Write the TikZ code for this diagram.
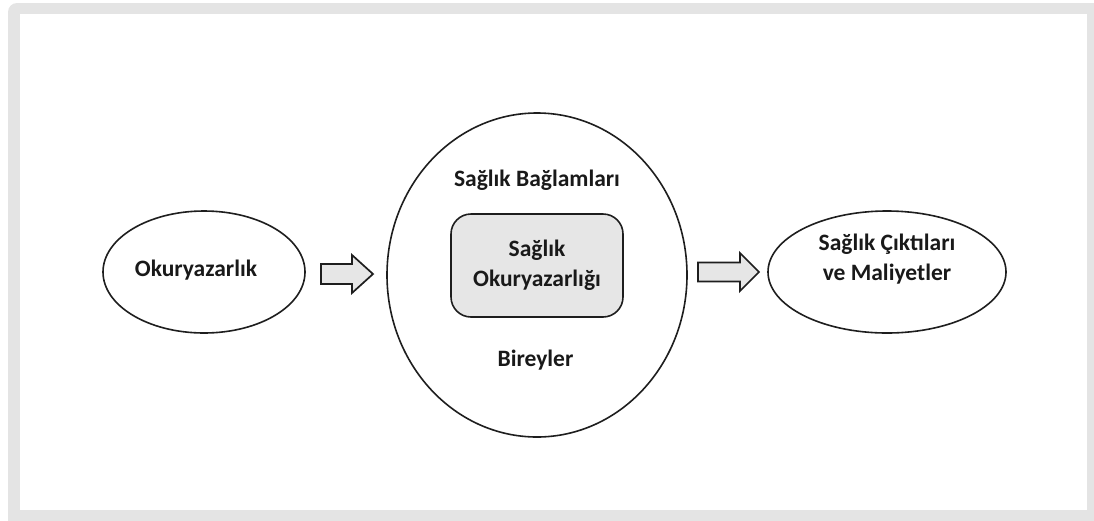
\documentclass[tikz,border=0pt]{standalone}
\usepackage{fontspec}
\setmainfont{Carlito}
\definecolor{framegray}{HTML}{E4E4E4}
\definecolor{boxgray}{HTML}{E6E6E6}
\definecolor{linec}{HTML}{1E1E1E}
\begin{document}
\begin{tikzpicture}[x=1pt,y=-1pt,
  lbl/.style={font=\fontsize{23.5}{30}\selectfont\bfseries, text=black!90, align=center},
  blockarrow/.style={draw=linec, line width=1.7pt, fill=boxgray, line join=miter}
]
\useasboundingbox (0,0) rectangle (1094,520);
% frame
\fill[framegray, rounded corners=9pt] (8,3) rectangle (1110,540);
\fill[white] (20,14) rectangle (1087,510);

% left ellipse
\draw[draw=linec, line width=1.6pt] (204,272) ellipse [x radius=101, y radius=61];
\node[lbl] (lit) at (196,270) {Okuryazarlık};

% big ellipse
\draw[draw=linec, line width=1.6pt] (537,275) ellipse [x radius=150, y radius=162];
\node[lbl] (ctx) at (537,180) {Sağlık Bağlamları};
\node[lbl] (ind) at (535.5,360) {Bireyler};
\node[draw=linec, line width=1.6pt, fill=boxgray, rounded corners=20pt,
      minimum width=172pt, minimum height=103pt, lbl] (hl) at (537,265.5)
      {Sağlık\\Okuryazarlığı};

% right ellipse
\draw[draw=linec, line width=1.6pt] (887,272) ellipse [x radius=119, y radius=61];
\node[lbl] (out) at (887,259) {Sağlık Çıktıları\\ve Maliyetler};

% block arrows
\coordinate (a1) at (321,274);
\draw[blockarrow] (a1) ++(0,-10) -- ++(31,0) -- ++(0,-9) -- (373,274) -- (352,293) -- ++(0,-9) -- ++(-31,0) -- cycle;
\coordinate (a2) at (698,272);
\draw[blockarrow] (a2) ++(0,-9.5) -- ++(42,0) -- ++(0,-9.5) -- (759,272) -- (740,291) -- ++(0,-9.5) -- ++(-42,0) -- cycle;
\end{tikzpicture}
\end{document}
